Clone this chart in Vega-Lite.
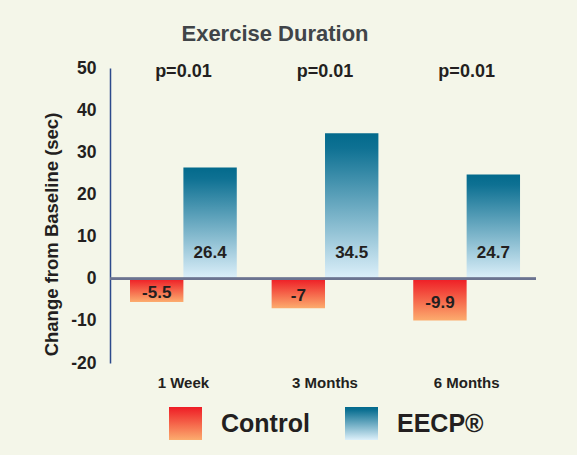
{
  "$schema": "https://vega.github.io/schema/vega-lite/v6.json",
  "autosize": {"type": "none"},
  "padding": {"left": 110, "top": 68, "right": 41, "bottom": 92},
  "width": 426,
  "height": 295,
  "background": "#F4F6E9",
  "title": {
    "text": "Exercise Duration",
    "fontSize": 22,
    "fontWeight": "bold",
    "font": "Liberation Sans",
    "color": "#404448",
    "anchor": "middle",
    "dx": -48,
    "offset": 13
  },
  "data": {
    "values": [
      {"period": "1 Week", "group": "Control", "value": -5.5, "p": "p=0.01"},
      {"period": "1 Week", "group": "EECP®", "value": 26.4, "p": "p=0.01"},
      {"period": "3 Months", "group": "Control", "value": -7, "p": "p=0.01"},
      {"period": "3 Months", "group": "EECP®", "value": 34.5, "p": "p=0.01"},
      {"period": "6 Months", "group": "Control", "value": -9.9, "p": "p=0.01"},
      {"period": "6 Months", "group": "EECP®", "value": 24.7, "p": "p=0.01"}
    ]
  },
  "encoding": {
    "x": {
      "field": "period",
      "type": "nominal",
      "sort": ["1 Week", "3 Months", "6 Months"],
      "scale": {"paddingInner": 0.246, "paddingOuter": 0.127, "align": 0.556},
      "axis": {
        "title": null,
        "domain": false,
        "ticks": false,
        "labelAngle": 0,
        "labelPadding": 12,
        "labelFontSize": 15,
        "labelFontWeight": "bold",
        "labelColor": "#231F20",
        "labelFont": "Liberation Sans"
      }
    },
    "xOffset": {
      "field": "group",
      "type": "nominal",
      "sort": ["Control", "EECP®"],
      "scale": {"paddingInner": 0, "paddingOuter": 0}
    },
    "y": {
      "field": "value",
      "type": "quantitative",
      "scale": {"domain": [-20, 50], "nice": false, "zero": false},
      "axis": {
        "title": "Change from Baseline (sec)",
        "titleFontSize": 18.5,
        "titleFontWeight": "bold",
        "titleFont": "Liberation Sans",
        "titleColor": "#231F20",
        "titleY": 166,
        "titleX": -59,
        "titleBaseline": "middle",
        "titleAngle": 270,
        "values": [-20, -10, 0, 10, 20, 30, 40, 50],
        "labelExpr": "'' + datum.value",
        "grid": false,
        "ticks": false,
        "domainColor": "#2C4A8C",
        "domainWidth": 1.5,
        "labelPadding": 14,
        "labelFontSize": 17.5,
        "labelFontWeight": "bold",
        "labelColor": "#231F20",
        "labelFont": "Liberation Sans"
      }
    }
  },
  "layer": [
    {
      "mark": {"type": "bar", "strokeWidth": 0},
      "encoding": {
        "color": {
          "field": "group",
          "type": "nominal",
          "scale": {
            "domain": ["Control", "EECP®"],
            "range": [
              {"expr": "{gradient: 'linear', x1: 0, y1: 0, x2: 0, y2: 1, stops: [{offset: 0, color: '#EE1C25'}, {offset: 1, color: '#FCAC6E'}]}"},
              {"expr": "{gradient: 'linear', x1: 0, y1: 0, x2: 0, y2: 1, stops: [{offset: 0, color: '#036A8C'}, {offset: 0.1, color: '#0E7193'}, {offset: 1, color: '#DDF0FA'}]}"}
            ]
          },
          "legend": {
            "title": null,
            "orient": "none",
            "legendX": 59,
            "legendY": 339,
            "direction": "horizontal",
            "symbolType": "square",
            "symbolSize": 1089,
            "symbolStrokeWidth": 0,
            "symbolOpacity": 1,
            "labelFontSize": 25,
            "labelFontWeight": "bold",
            "labelFont": "Liberation Sans",
            "labelColor": "#231F20",
            "labelOffset": 19,
            "columnPadding": 35,
            "labelLimit": 300
          }
        }
      }
    },
    {
      "mark": {"type": "rule", "color": "#6B7390", "strokeWidth": 2},
      "encoding": {"y": {"datum": 0}, "x": null, "xOffset": null}
    },
    {
      "transform": [{"filter": "datum.value > 0"}],
      "mark": {"type": "text", "fontSize": 17, "fontWeight": "bold", "font": "Liberation Sans", "color": "#231F20", "baseline": "middle"},
      "encoding": {
        "y": {"datum": 6.2},
        "text": {"field": "value", "type": "quantitative", "format": ".1f"}
      }
    },
    {
      "transform": [
        {"filter": "datum.value < 0"},
        {"calculate": "datum.value / 2", "as": "mid"}
      ],
      "mark": {"type": "text", "fontSize": 17, "fontWeight": "bold", "font": "Liberation Sans", "color": "#231F20", "baseline": "middle", "dy": 3},
      "encoding": {
        "y": {"field": "mid", "type": "quantitative"},
        "text": {"field": "value", "type": "nominal"}
      }
    },
    {
      "transform": [{"filter": "datum.group === 'Control'"}],
      "mark": {"type": "text", "fontSize": 18, "fontWeight": "bold", "font": "Liberation Sans", "color": "#231F20", "baseline": "middle"},
      "encoding": {
        "xOffset": null,
        "y": {"datum": 49},
        "text": {"field": "p", "type": "nominal"}
      }
    }
  ],
  "config": {
    "view": {"stroke": null},
    "font": "Liberation Sans"
  }
}
